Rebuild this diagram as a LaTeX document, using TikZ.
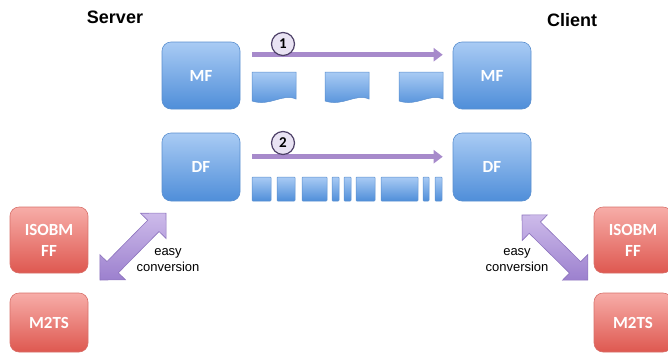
\documentclass[tikz,border=0pt]{standalone}
\usepackage{fontspec}
\setmainfont{Liberation Sans}
\newfontfamily\boxfont{Carlito}
\usetikzlibrary{arrows.meta,calc}
\definecolor{bluetop}{HTML}{A9CBF4}
\definecolor{bluebot}{HTML}{4F8ED9}
\definecolor{blueline}{HTML}{5A8FCF}
\definecolor{redtop}{HTML}{F7ADA8}
\definecolor{redbot}{HTML}{DE5850}
\definecolor{redline}{HTML}{D8706A}
\definecolor{purp}{HTML}{A78ACB}
\definecolor{purptop}{HTML}{CDBBEA}
\definecolor{purpbot}{HTML}{9C80CE}
\definecolor{purpline}{HTML}{8E75BE}
\definecolor{circfill}{HTML}{E9E3F3}
\definecolor{circline}{HTML}{4E4168}
\tikzset{
  bluebox/.style={rounded corners=9pt, top color=bluetop, bottom color=bluebot, draw=blueline,
    line width=0.6pt, minimum width=78pt, minimum height=67pt, text=white,
    font=\boxfont\bfseries\fontsize{17}{21}\selectfont, align=center},
  redbox/.style={rounded corners=9pt, top color=redtop, bottom color=redbot, draw=redline,
    line width=0.6pt, minimum width=78pt, text=white,
    font=\boxfont\bfseries\fontsize{17}{21}\selectfont, align=center},
  piece/.style={top color=bluetop, bottom color=bluebot, draw=blueline, line width=0.5pt},
  flow/.style={draw=purp, line width=4.5pt, -{Triangle[length=9pt,width=13pt]}},
  num/.style={circle, fill=circfill, draw=circline, line width=1.2pt, minimum size=23pt,
    inner sep=0pt, font=\boxfont\bfseries\fontsize{15}{15}\selectfont},
  titletext/.style={font=\bfseries\fontsize{18}{20}\selectfont},
  note/.style={font=\fontsize{13}{16}\selectfont, align=center},
  fat/.style={top color=purptop, bottom color=purpbot, draw=purpline, line width=0.6pt},
}
\newcommand{\docpiece}[1]{%
  \shade[piece] (#1,72) -- (#1+44,72) -- (#1+44,99)
    .. controls (#1+30,93) and (#1+18,107) .. (#1,101) -- cycle;}
\newcommand{\fatarrow}[3]{%
  \begin{scope}[shift={(#1)}, rotate=#2]
    \shade[fat] (0,0) -- (18,18) -- (18,8) -- (#3-18,8) -- (#3-18,18) -- (#3,0)
      -- (#3-18,-18) -- (#3-18,-8) -- (18,-8) -- (18,-18) -- cycle;
  \end{scope}}
\begin{document}
\begin{tikzpicture}[x=1pt,y=-1pt]
\useasboundingbox (0,0) rectangle (668,362);
% titles
\node[titletext] (srv) at (115,17) {Server};
\node[titletext] (cli) at (572,20) {Client};
% main boxes
\node[bluebox] (MFs) at (201,75.5) {MF};
\node[bluebox] (MFc) at (492,75.5) {MF};
\node[bluebox, minimum height=68pt] (DFs) at (201,167) {DF};
\node[bluebox, minimum height=68pt] (DFc) at (492,167) {DF};
% format boxes
\node[redbox, minimum height=66pt] (ISOs) at (49,240) {ISOBM\\FF};
\node[redbox, minimum height=59pt] (M2s) at (49,322.5) {M2TS};
\node[redbox, minimum height=66pt] (ISOc) at (633,240) {ISOBM\\FF};
\node[redbox, minimum height=59pt] (M2c) at (633,322.5) {M2TS};
% flow arrows
\draw[flow] ([xshift=12pt,yshift=-13pt]MFs.north east) -- ([xshift=-10pt,yshift=-13pt]MFc.north west);
\draw[flow] ([xshift=12pt,yshift=-24pt]DFs.north east) -- ([xshift=-10pt,yshift=-24pt]DFc.north west);
\node[num] (n1) at (283,44) {1};
\node[num] (n2) at (283,143) {2};
% document pieces
\docpiece{252}
\docpiece{325}
\docpiece{399}
% segments
\foreach \a/\b in {252/271, 277/295, 302/327, 332/339, 344/351, 356/375, 381/418, 423/429, 435/442}
  \shade[piece, rounded corners=0.8pt] (\a,177) rectangle (\b,201);
% conversion arrows
\coordinate (la) at (100,280);
\coordinate (ra) at (522,215);
\fatarrow{la}{45.4}{94}
\fatarrow{ra}{-44.6}{92.6}
\node[note] (ln) at (168,260) {easy\\conversion};
\node[note] (rn) at (517,260) {easy\\conversion};
\end{tikzpicture}
\end{document}
